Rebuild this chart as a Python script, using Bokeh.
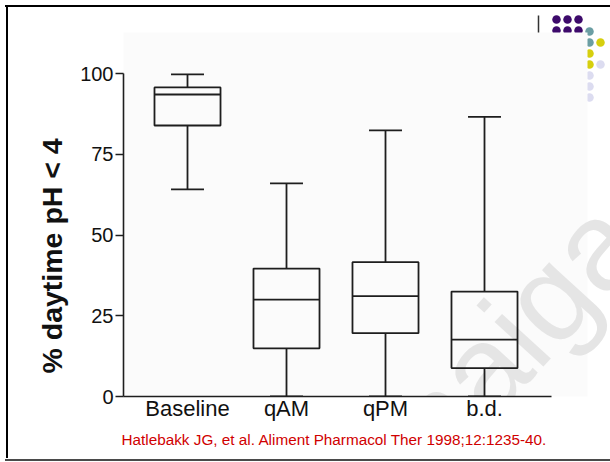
import numpy as np
from bokeh.plotting import figure
from bokeh.layouts import column, row
from bokeh.models import (Range1d, LinearAxis, FixedTicker, Label, BoxAnnotation,
                          ColumnDataSource, Title, Spacer)
from bokeh.embed import file_html
from bokeh.resources import INLINE

# ---------------- data ----------------
categories = ["Baseline", "qAM", "qPM", "b.d."]
whisker_low = [64.1, 0.0, 0.0, 0.0]
quartile_1 = [83.9, 14.9, 19.6, 8.8]
medians = [93.5, 30.0, 31.1, 17.6]
quartile_3 = [95.7, 39.6, 41.6, 32.5]
whisker_high = [99.7, 66.0, 82.4, 86.6]
y_ticks = [0, 25, 50, 75, 100]
y_title = "% daytime pH < 4"
citation = "Hatlebakk JG, et al. Aliment Pharmacol Ther 1998;12:1235-40."
watermark = "thaigastro"

# ---------------- layout constants (page pixels) ----------------
TOTAL_W, TOTAL_H = 610, 462
MAIN_X, MAIN_Y = 8, 7
MAIN_W, MAIN_H = TOTAL_W - MAIN_X, 458 - MAIN_Y
FRAME_L, FRAME_R, FRAME_T, FRAME_B = 123, 610, 7, 396
FONT = "Liberation Sans"
INK = "#1e1e1e"
BOX_W = 0.667
CAP_W = 0.333


def block(w, h, color=None):
    if color is None:
        return Spacer(width=w, height=h, margin=0)
    return Spacer(width=w, height=h, margin=0, styles={"background-color": color})


x0 = -0.6465
x1 = (FRAME_R - 187) / 99.0
y1 = (FRAME_B - FRAME_T) / 3.23

p = figure(width=MAIN_W, height=MAIN_H, output_backend="svg", toolbar_location=None,
           x_range=Range1d(x0, x1), y_range=Range1d(0, y1),
           min_border_left=FRAME_L - MAIN_X, min_border_right=0,
           min_border_top=0, min_border_bottom=MAIN_Y + MAIN_H - FRAME_B,
           x_axis_location=None, y_axis_location=None,
           background_fill_color="white", border_fill_color="white",
           outline_line_color=None)
p.grid.visible = False
p.extra_x_ranges = {"px": Range1d(FRAME_L, FRAME_R)}
p.extra_y_ranges = {"px": Range1d(FRAME_B, FRAME_T)}

# ---------------- decorations ----------------
dot_x = [556, 567, 578, 556, 567, 578, 589, 589, 600, 589, 589, 600, 589, 589, 589]
dot_y = [19, 19, 19, 30, 30, 30, 31, 42, 42, 53, 64, 64, 75, 86, 97]
dot_c = ["#3d0a6b"] * 6 + ["#6b9ea3", "#6b9ea3", "#d6cf0e", "#d6cf0e", "#d6cf0e",
                           "#dcdcf0", "#dcdcf0", "#dcdcf0", "#dcdcf0"]
dots = p.scatter(dot_x, dot_y, size=8.5, color=dot_c, line_color=None,
                 x_range_name="px", y_range_name="px")
dots.level = "image"
sep = p.segment([538], [15], [538], [33], line_color="#333333", line_width=1.5,
                x_range_name="px", y_range_name="px")
sep.level = "image"

p.add_layout(BoxAnnotation(left=27, right=587, top=32, bottom=450,
                           x_range_name="px", y_range_name="px",
                           fill_color="#fbfbfb", fill_alpha=1, line_color=None,
                           level="underlay"))
p.add_layout(Label(x=388, y=471, x_range_name="px", y_range_name="px",
                   text=watermark, angle=0.83, text_font=FONT,
                   text_font_size="125px", text_color="#e5e5e5",
                   text_align="left", text_baseline="alphabetic", level="underlay"))

# ---------------- axes ----------------
yaxis = LinearAxis(ticker=FixedTicker(ticks=y_ticks), bounds=(0, 100))
xs = np.arange(len(categories))
xaxis = LinearAxis(ticker=FixedTicker(ticks=list(xs)),
                   major_label_overrides={int(i): c for i, c in zip(xs, categories)},
                   bounds=(x0, (551 - 187) / 99.0))
for ax in (yaxis, xaxis):
    ax.axis_line_color = INK
    ax.axis_line_width = 1.6
    ax.major_tick_line_color = INK
    ax.major_tick_line_width = 1.6
    ax.minor_tick_line_color = None
    ax.major_tick_in = 0
    ax.major_label_text_font = FONT
    ax.major_label_text_color = "#111111"
yaxis.major_tick_out = 8
yaxis.major_label_standoff = 2
yaxis.major_label_text_font_size = "20px"
xaxis.major_tick_out = 0
xaxis.major_label_standoff = -1
xaxis.major_label_text_font_size = "22px"
p.add_layout(yaxis, "left")
p.add_layout(xaxis, "below")

p.add_layout(Title(text=y_title, align="left", offset=23, standoff=19,
                   text_font=FONT, text_font_style="bold", text_font_size="28.5px",
                   text_color="#111111"), "left")
p.add_layout(Title(text=citation, align="left", offset=-2, standoff=10,
                   text_font=FONT, text_font_style="normal", text_font_size="15.3px",
                   text_color="#d00000"), "below")

# ---------------- box plots ----------------
src = ColumnDataSource(dict(
    x=xs, lo=whisker_low, q1=quartile_1, med=medians, q3=quartile_3, hi=whisker_high,
    bl=xs - BOX_W / 2, br=xs + BOX_W / 2, cl=xs - CAP_W / 2, cr=xs + CAP_W / 2))
p.segment(x0="x", y0="q3", x1="x", y1="hi", source=src, line_color=INK, line_width=1.8)
p.segment(x0="x", y0="lo", x1="x", y1="q1", source=src, line_color=INK, line_width=1.8)
p.segment(x0="cl", y0="hi", x1="cr", y1="hi", source=src, line_color=INK, line_width=1.8)
p.segment(x0="cl", y0="lo", x1="cr", y1="lo", source=src, line_color=INK, line_width=1.8)
p.quad(left="bl", right="br", bottom="q1", top="q3", source=src,
       fill_color=None, line_color=INK, line_width=1.8)
p.segment(x0="bl", y0="med", x1="br", y1="med", source=src, line_color=INK, line_width=1.8)

layout = column(
    block(TOTAL_W, 5),
    row(block(5, 2), block(TOTAL_W - 5, 2, "black")),
    row(block(6, MAIN_H), block(2, MAIN_H, "black"), p),
    block(TOTAL_W, 1),
    row(block(5, 2), block(TOTAL_W - 5, 2, "#4a4a4a")),
    block(TOTAL_W, 1),
)
open("out.html", "w").write(file_html(layout, INLINE))
